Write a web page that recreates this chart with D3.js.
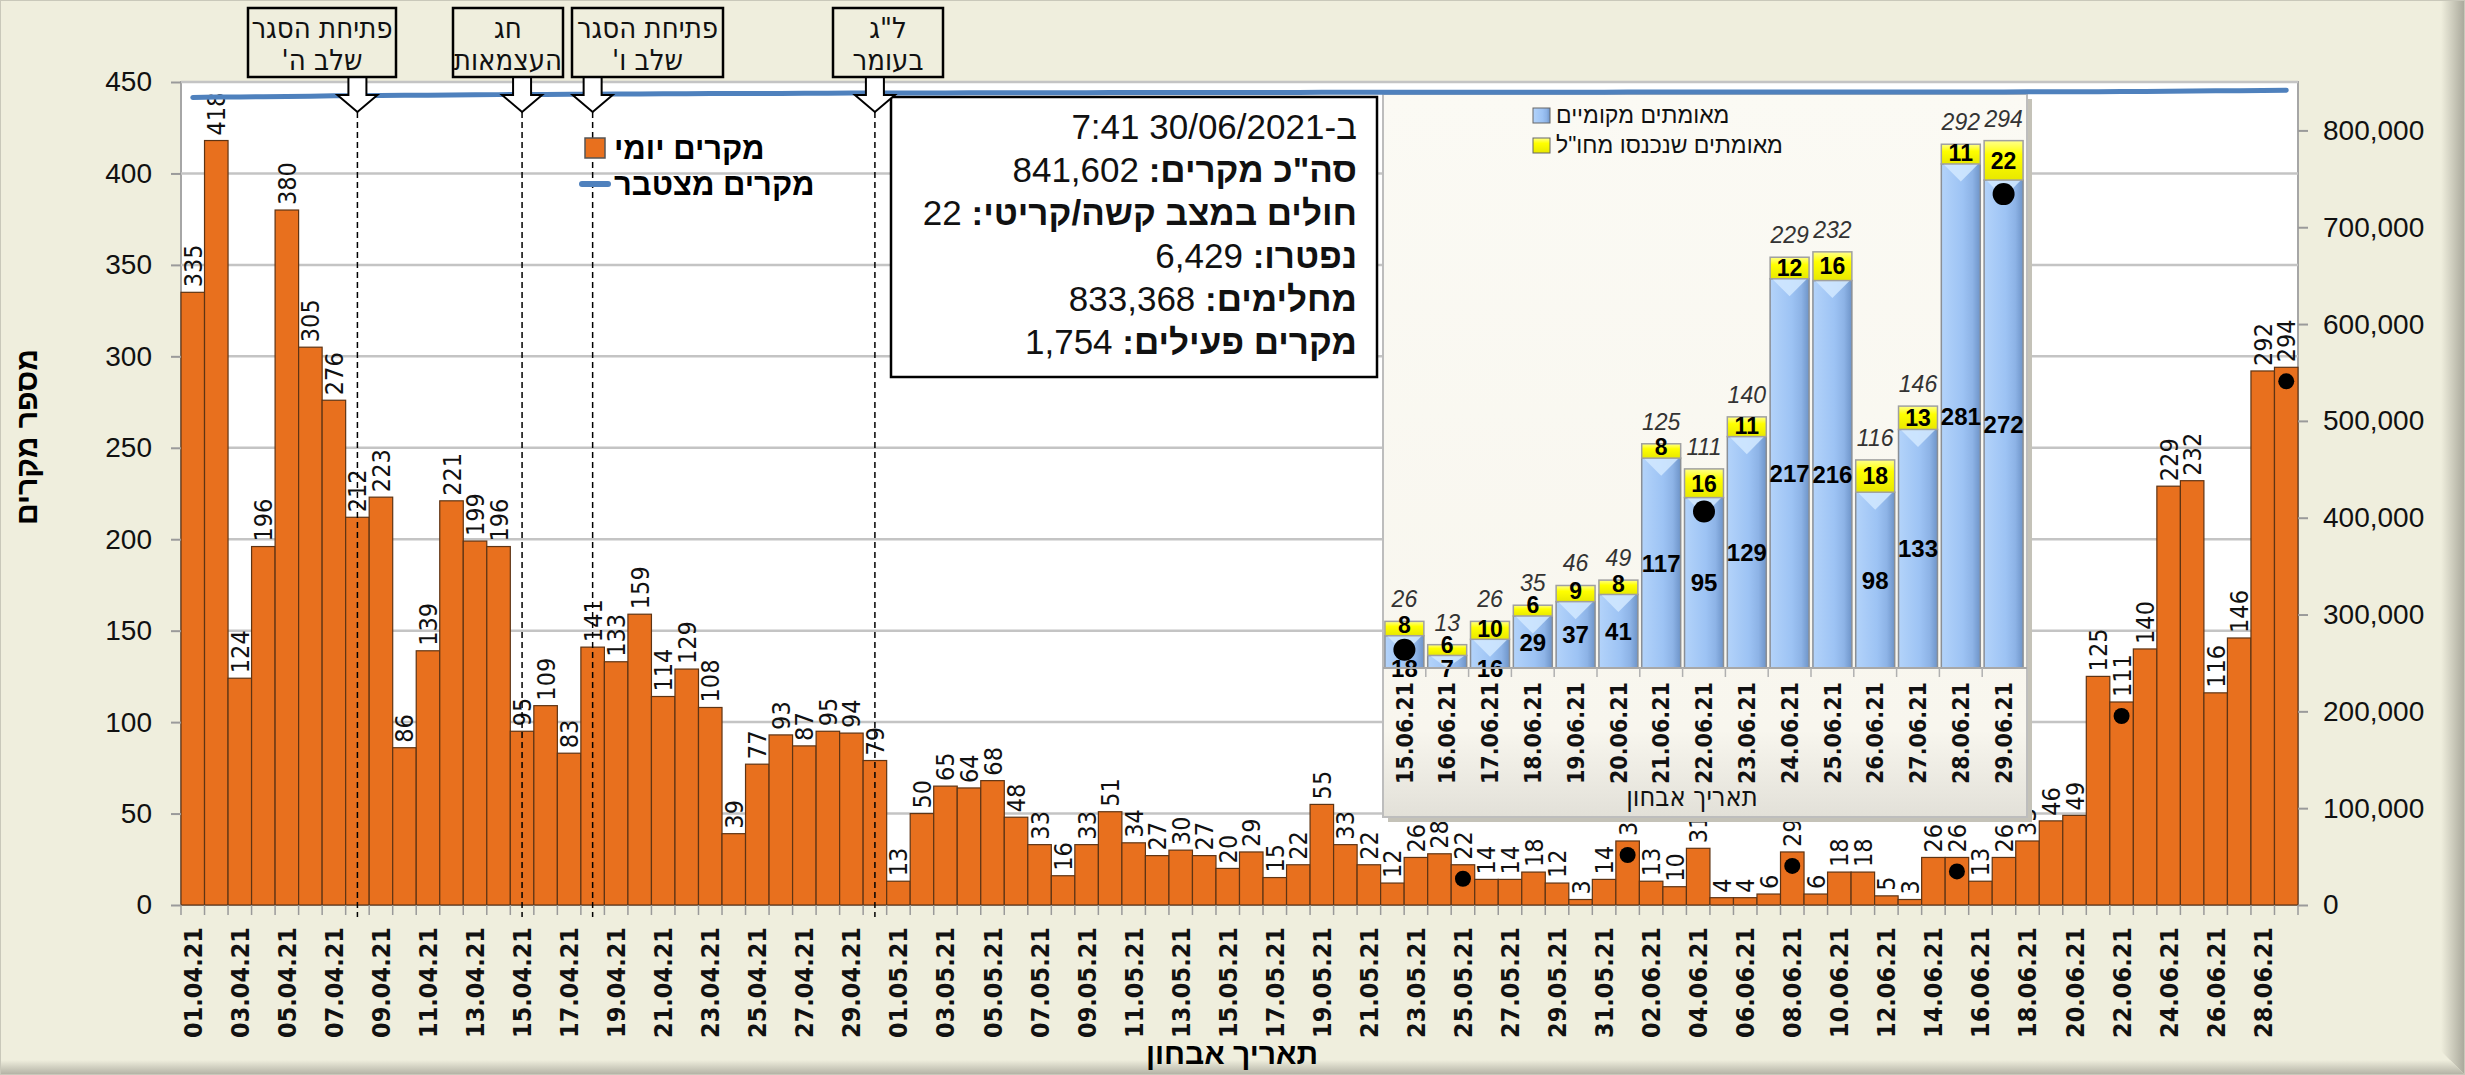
<!DOCTYPE html>
<html lang="he">
<head>
    <meta charset="utf-8" />
    <title>מקרים יומיים ומצטברים</title>
    <script src="https://cdn.jsdelivr.net/npm/d3@7/dist/d3.min.js"></script>
    <style type="text/css">
        body { margin: 0; background: #fff; }
        svg { display: block; }
        .sans { font-family: "Liberation Sans", Arial, sans-serif; }
        .narrow { font-family: "Liberation Sans Narrow", "Arial Narrow", "DejaVu Sans Condensed", sans-serif; }
        .cond { font-family: "DejaVu Sans Condensed", "DejaVu Sans", sans-serif; font-stretch: condensed; }
    </style>
</head>
<body>
<svg id="chart" width="2465" height="1075" xmlns="http://www.w3.org/2000/svg"></svg>
<script type="text/javascript">
    // ---- data ----
    var dailyCases = [
        335, 418, 124, 196, 380, 305, 276, 212, 223, 86, 139, 221, 199, 196, 95,
        109, 83, 141, 133, 159, 114, 129, 108, 39, 77, 93, 87, 95, 94, 79,          // April
        13, 50, 65, 64, 68, 48, 33, 16, 33, 51, 34, 27, 30, 27, 20, 29,
        15, 22, 55, 33, 22, 12, 26, 28, 22, 14, 14, 18, 12, 3, 14,                  // May
        35, 13, 10, 31, 4, 4, 6, 29, 6, 18, 18, 5, 3, 26, 26,
        13, 26, 35, 46, 49, 125, 111, 140, 229, 232, 116, 146, 292, 294            // June
    ];
    var totalCases = 841602;
    var weeklyMarks = ["25.05.21", "01.06.21", "08.06.21", "15.06.21", "22.06.21", "29.06.21"];
    var eventDates = ["08.04.21", "15.04.21", "18.04.21", "30.04.21"];
    var eventLabels = [["פתיחת הסגר", "שלב ה'"], ["חג", "העצמאות"], ["פתיחת הסגר", "שלב ו'"], ["ל\"ג", "בעומר"]];
    var leftTicks = [0, 50, 100, 150, 200, 250, 300, 350, 400, 450];
    var rightTicks = [0, 100000, 200000, 300000, 400000, 500000, 600000, 700000, 800000];

    var insetDates = ["15.06.21", "16.06.21", "17.06.21", "18.06.21", "19.06.21", "20.06.21", "21.06.21",
        "22.06.21", "23.06.21", "24.06.21", "25.06.21", "26.06.21", "27.06.21", "28.06.21", "29.06.21"];
    var insetLocal = [18, 7, 16, 29, 37, 41, 117, 95, 129, 217, 216, 98, 133, 281, 272];
    var insetAbroad = [8, 6, 10, 6, 9, 8, 8, 16, 11, 12, 16, 18, 13, 11, 22];
    var insetTotals = [26, 13, 26, 35, 46, 49, 125, 111, 140, 229, 232, 116, 146, 292, 294];

    var infoLabels = ["", "סה\"כ מקרים:", "חולים במצב קשה/קריטי:", "נפטרו:", "מחלימים:", "מקרים פעילים:"];
    var infoValues = ["ב-30/06/2021 7:41", " 841,602", " 22", " 6,429", " 833,368", " 1,754"];

    // dates of the category axis, 01.04.21 .. 29.06.21
    var fmt = d3.timeFormat("%d.%m.%y");
    var dates = d3.timeDay.range(new Date(2021, 3, 1), new Date(2021, 5, 30)).map(fmt);
    var cumulative = Array.from(d3.cumsum(dailyCases), function (v) {
        return v + totalCases - d3.sum(dailyCases);
    });

    // ---- layout ----
    var plot = { x0: 181, x1: 2298, y0: 82, y1: 905 };
    var inset = { x0: 1383, x1: 2027, y0: 94, y1: 817, axis: 668 };
    var infoBox = { x0: 891, x1: 1377, y0: 97, y1: 377 };
    var eventBoxes = [[248, 396], [453, 563], [572, 723], [833, 943]];
    var orange = "#E8701E", blue = "#4F81BD";

    var svg = d3.select("#chart");
    var defs = svg.append("defs");

    function linGrad(id, x2, y2, stops) {
        var g = defs.append("linearGradient").attr("id", id)
            .attr("x1", 0).attr("y1", 0).attr("x2", x2).attr("y2", y2);
        stops.forEach(function (s) {
            g.append("stop").attr("offset", s[0]).attr("stop-color", s[1]);
        });
    }
    linGrad("edgeR", 1, 0, [["0%", "#EFEEDD"], ["100%", "#A8A79A"]]);
    linGrad("edgeB", 0, 1, [["0%", "#EFEEDD"], ["100%", "#B0AFA2"]]);
    linGrad("blueBar", 1, 0, [["0%", "#B3D3FA"], ["55%", "#9DC3F4"], ["80%", "#8DB3E6"], ["100%", "#6E94C8"]]);
    linGrad("yellowBar", 0, 1, [["0%", "#FFFF8C"], ["35%", "#FFFF00"], ["100%", "#E8E800"]]);
    linGrad("insetBg", 0, 1, [["0%", "#FBFAF4"], ["88%", "#F8F6EE"], ["100%", "#E2E0D8"]]);

    // ---- background ----
    svg.append("rect").attr("width", 2465).attr("height", 1075).attr("fill", "#EFEEDD");
    svg.append("path").attr("d", "M2441,0 L2465,0 L2465,1075 L2441,1051 Z").attr("fill", "url(#edgeR)");
    svg.append("path").attr("d", "M0,1060 L2450,1060 L2465,1075 L0,1075 Z").attr("fill", "url(#edgeB)");
    svg.append("rect").attr("x", 0.5).attr("y", 0.5).attr("width", 2464).attr("height", 1074)
        .attr("fill", "none").attr("stroke", "#C9C8BA");

    // ---- scales ----
    var x = d3.scaleBand().domain(dates).range([plot.x0, plot.x1]);
    var yLeft = d3.scaleLinear().domain([0, 450]).range([plot.y1, plot.y0]);
    var yRight = d3.scaleLinear().domain([0, 850000]).range([plot.y1, plot.y0]);
    var bw = x.bandwidth();
    function cx(d) { return x(d) + bw / 2; }

    svg.append("rect").attr("x", plot.x0).attr("y", plot.y0)
        .attr("width", plot.x1 - plot.x0).attr("height", plot.y1 - plot.y0)
        .attr("fill", "#fff").attr("stroke", "#A6A6A6").attr("stroke-width", 2);

    svg.append("g").selectAll("line").data(leftTicks.slice(1)).enter().append("line")
        .attr("x1", plot.x0).attr("x2", plot.x1)
        .attr("y1", yLeft).attr("y2", yLeft)
        .attr("stroke", "#C4C4C4").attr("stroke-width", 2.5);

    // ---- daily bars ----
    var rows = dates.map(function (d, i) { return { date: d, value: dailyCases[i] }; });

    svg.append("g").selectAll("rect").data(rows).enter().append("rect")
        .attr("x", function (d) { return x(d.date); })
        .attr("y", function (d) { return yLeft(d.value); })
        .attr("width", bw)
        .attr("height", function (d) { return plot.y1 - yLeft(d.value); })
        .attr("fill", orange).attr("stroke", "#5E3414").attr("stroke-width", 1.2);

    svg.append("g").attr("class", "cond").selectAll("text").data(rows).enter().append("text")
        .attr("transform", function (d) { return "translate(" + cx(d.date) + "," + (yLeft(d.value) - 5) + ") rotate(-90)"; })
        .attr("dy", "0.36em")
        .attr("font-size", 25)
        .attr("fill", "#111")
        .text(function (d) { return d.value; });

    svg.append("g").selectAll("circle").data(rows.filter(function (d) { return weeklyMarks.indexOf(d.date) >= 0; }))
        .enter().append("circle")
        .attr("cx", function (d) { return cx(d.date); })
        .attr("cy", function (d) { return yLeft(d.value) + 14; })
        .attr("r", 8).attr("fill", "#000");

    // ---- axes ----
    var gl = svg.append("g").attr("class", "sans").attr("transform", "translate(" + plot.x0 + ",0)")
        .call(d3.axisLeft(yLeft).tickValues(leftTicks).tickSize(10).tickPadding(19));
    var gr = svg.append("g").attr("class", "sans").attr("transform", "translate(" + plot.x1 + ",0)")
        .call(d3.axisRight(yRight).tickValues(rightTicks).tickSize(10).tickPadding(15)
            .tickFormat(d3.format(",")));
    [gl, gr].forEach(function (g) {
        g.select(".domain").remove();
        g.selectAll(".tick line").attr("stroke", "#9A9A9A").attr("stroke-width", 2);
        g.selectAll(".tick text").attr("font-size", 28).attr("fill", "#111")
            .attr("font-family", "'Liberation Sans', Arial, sans-serif");
    });

    svg.append("g").selectAll("line").data(dates.concat(["end"])).enter().append("line")
        .attr("x1", function (d) { return d === "end" ? plot.x1 : x(d); })
        .attr("x2", function (d) { return d === "end" ? plot.x1 : x(d); })
        .attr("y1", plot.y1).attr("y2", plot.y1 + 10)
        .attr("stroke", "#9A9A9A").attr("stroke-width", 1.5);

    svg.append("g").attr("class", "narrow").selectAll("text")
        .data(dates.filter(function (d, i) { return i % 2 === 0; })).enter().append("text")
        .attr("transform", function (d) { return "translate(" + cx(d) + ",927) rotate(-90)"; })
        .attr("text-anchor", "end").attr("dy", "0.36em")
        .attr("font-size", 25).attr("font-weight", "bold").attr("fill", "#111")
        .text(function (d) { return d; });

    svg.append("text").attr("class", "sans")
        .attr("transform", "translate(26,437) rotate(-90)")
        .attr("text-anchor", "middle").attr("dy", "0.36em")
        .attr("font-size", 30).attr("font-weight", "bold").text("מספר מקרים");
    svg.append("text").attr("class", "sans")
        .attr("x", 1232).attr("y", 1064).attr("text-anchor", "middle")
        .attr("font-size", 30).attr("font-weight", "bold").text("תאריך אבחון");

    // ---- event markers (dashed lines) ----
    svg.append("g").selectAll("line").data(eventDates).enter().append("line")
        .attr("x1", cx).attr("x2", cx)
        .attr("y1", 112).attr("y2", plot.y1 + 12)
        .attr("stroke", "#000").attr("stroke-width", 1.5).attr("stroke-dasharray", "6,4");

    // ---- legend ----
    var lg = svg.append("g").attr("class", "sans").attr("font-weight", "bold").attr("font-size", 31);
    lg.append("rect").attr("x", 585).attr("y", 138).attr("width", 20).attr("height", 20)
        .attr("fill", orange).attr("stroke", "#555").attr("stroke-width", 1.5);
    lg.append("text").attr("x", 614).attr("y", 159).text("מקרים יומי");
    lg.append("line").attr("x1", 582).attr("x2", 608).attr("y1", 184).attr("y2", 184)
        .attr("stroke", blue).attr("stroke-width", 6).attr("stroke-linecap", "round");
    lg.append("text").attr("x", 614).attr("y", 195).text("מקרים מצטבר");

    // ---- info box ----
    svg.append("rect").attr("x", infoBox.x0).attr("y", infoBox.y0)
        .attr("width", infoBox.x1 - infoBox.x0).attr("height", infoBox.y1 - infoBox.y0)
        .attr("fill", "#fff").attr("stroke", "#000").attr("stroke-width", 2.5);
    var info = svg.append("g").attr("class", "sans").attr("font-size", 35).attr("fill", "#111");
    infoLabels.forEach(function (lab, i) {
        var t = info.append("text").attr("x", infoBox.x1 - 20).attr("y", 139 + i * 43)
            .attr("direction", "rtl").attr("text-anchor", "start");
        if (lab) t.append("tspan").attr("font-weight", "bold").text(lab);
        t.append("tspan").text(infoValues[i]);
    });

    // ---- inset: local vs. abroad, last 15 days ----
    var ig = svg.append("g");
    ig.append("rect").attr("x", inset.x0 + 5).attr("y", inset.y0 + 5)
        .attr("width", inset.x1 - inset.x0).attr("height", inset.y1 - inset.y0).attr("fill", "#C4C2B8");
    ig.append("rect").attr("x", inset.x0).attr("y", inset.y0)
        .attr("width", inset.x1 - inset.x0).attr("height", inset.y1 - inset.y0)
        .attr("fill", "url(#insetBg)").attr("stroke", "#BDBDBD").attr("stroke-width", 2);

    var xi = d3.scaleBand().domain(insetDates).range([inset.x0, inset.x1 - 2])
        .paddingInner(0.09).paddingOuter(0.045);
    var yi = d3.scaleLinear().domain([0, 320]).range([inset.axis, inset.y0]);
    var ibw = xi.bandwidth();
    var step = xi.step();
    var irows = insetDates.map(function (d, i) {
        return { date: d, local: insetLocal[i], abroad: insetAbroad[i], total: insetTotals[i] };
    });

    var bars = ig.append("g").selectAll("g").data(irows).enter().append("g")
        .attr("transform", function (d) { return "translate(" + xi(d.date) + ",0)"; });
    bars.append("rect")
        .attr("y", function (d) { return yi(d.local); })
        .attr("width", ibw)
        .attr("height", function (d) { return inset.axis - yi(d.local); })
        .attr("fill", "url(#blueBar)").attr("stroke", "#8A8F96").attr("stroke-width", 1.5);
    bars.append("path")
        .attr("d", function (d) {
            var t = yi(d.local), h = Math.min(ibw * 0.45, inset.axis - t);
            return "M2," + t + " L" + (ibw - 2) + "," + t + " L" + (ibw / 2) + "," + (t + h) + " Z";
        })
        .attr("fill", "#D2E9FF").attr("opacity", 0.85);
    bars.append("rect")
        .attr("y", function (d) { return yi(d.local + d.abroad); })
        .attr("width", ibw)
        .attr("height", function (d) { return yi(d.local) - yi(d.local + d.abroad); })
        .attr("fill", "url(#yellowBar)").attr("stroke", "#A0A0A0").attr("stroke-width", 1.5);

    bars.append("text").attr("class", "sans")
        .attr("x", ibw / 2)
        .attr("y", function (d) {
            return Math.min((yi(d.local + d.abroad) + yi(d.local)) / 2, yi(d.local) - 11);
        })
        .attr("dy", "0.36em").attr("text-anchor", "middle")
        .attr("font-size", 23).attr("font-weight", "bold").attr("fill", "#000")
        .text(function (d) { return d.abroad; });
    bars.append("text").attr("class", "sans")
        .attr("x", ibw / 2)
        .attr("y", function (d) {
            var h = inset.axis - yi(d.local);
            return h < 35 ? inset.axis : (yi(d.local) + inset.axis) / 2;
        })
        .attr("dy", "0.36em").attr("text-anchor", "middle")
        .attr("font-size", 24).attr("font-weight", "bold").attr("fill", "#000")
        .text(function (d) { return d.local; });
    bars.append("text").attr("class", "sans")
        .attr("x", ibw / 2)
        .attr("y", function (d) { return yi(d.total) - 14; })
        .attr("text-anchor", "middle")
        .attr("font-size", 23).attr("font-style", "italic").attr("fill", "#333")
        .text(function (d) { return d.total; });
    bars.filter(function (d) { return weeklyMarks.indexOf(d.date) >= 0; }).append("circle")
        .attr("cx", ibw / 2)
        .attr("cy", function (d) { return yi(d.local) + 14; })
        .attr("r", 11).attr("fill", "#000");

    ig.append("line").attr("x1", inset.x0).attr("x2", inset.x1)
        .attr("y1", inset.axis).attr("y2", inset.axis)
        .attr("stroke", "#A8A8A8").attr("stroke-width", 2);
    ig.append("g").selectAll("line").data(insetDates.slice(1)).enter().append("line")
        .attr("x1", function (d) { return xi(d) - (step - ibw) / 2; })
        .attr("x2", function (d) { return xi(d) - (step - ibw) / 2; })
        .attr("y1", inset.axis).attr("y2", inset.axis + 9)
        .attr("stroke", "#B0B0B0").attr("stroke-width", 1.5);
    ig.append("g").attr("class", "narrow").selectAll("text").data(insetDates).enter().append("text")
        .attr("transform", function (d) { return "translate(" + (xi(d) + ibw / 2) + ",682) rotate(-90)"; })
        .attr("text-anchor", "end").attr("dy", "0.36em")
        .attr("font-size", 23).attr("font-weight", "bold").attr("fill", "#111")
        .text(function (d) { return d; });
    ig.append("text").attr("class", "narrow")
        .attr("x", 1692).attr("y", 806).attr("text-anchor", "middle")
        .attr("font-size", 27).attr("fill", "#111").text("תאריך אבחון");

    var il = ig.append("g").attr("class", "sans").attr("font-size", 23).attr("fill", "#111");
    il.append("rect").attr("x", 1533).attr("y", 108).attr("width", 17).attr("height", 15)
        .attr("fill", "url(#blueBar)").attr("stroke", "#666");
    il.append("text").attr("x", 1556).attr("y", 123).text("מאומתים מקומיים");
    il.append("rect").attr("x", 1533).attr("y", 138).attr("width", 17).attr("height", 15)
        .attr("fill", "url(#yellowBar)").attr("stroke", "#666");
    il.append("text").attr("x", 1556).attr("y", 153).text("מאומתים שנכנסו מחו\"ל");

    // ---- cumulative line (right axis) ----
    svg.append("path").datum(cumulative)
        .attr("d", d3.line()
            .x(function (d, i) { return cx(dates[i]); })
            .y(function (d) { return yRight(d); }))
        .attr("fill", "none").attr("stroke", blue).attr("stroke-width", 5)
        .attr("stroke-linecap", "round");

    // ---- event boxes and arrows ----
    function arrowPath(c, yTop, yTip) {
        var hs = yTip - 17;
        return "M" + (c - 9) + "," + yTop + " L" + (c + 9) + "," + yTop +
            " L" + (c + 9) + "," + hs + " L" + (c + 20) + "," + hs +
            " L" + c + "," + yTip + " L" + (c - 20) + "," + hs +
            " L" + (c - 9) + "," + hs + " Z";
    }
    var eg = svg.append("g");
    eventDates.forEach(function (d, i) {
        var b = eventBoxes[i];
        eg.append("path").attr("d", arrowPath(cx(d), 77, 112))
            .attr("fill", "#fff").attr("stroke", "#000").attr("stroke-width", 2)
            .attr("stroke-linejoin", "miter");
        eg.append("rect").attr("x", b[0]).attr("y", 8)
            .attr("width", b[1] - b[0]).attr("height", 69)
            .attr("fill", "#EFEEDD").attr("stroke", "#000").attr("stroke-width", 2.5);
        eventLabels[i].forEach(function (line, j) {
            eg.append("text").attr("class", "narrow")
                .attr("x", (b[0] + b[1]) / 2).attr("y", 38 + j * 32)
                .attr("text-anchor", "middle").attr("direction", "rtl")
                .attr("font-size", 29).attr("fill", "#111")
                .text(line);
        });
    });
</script>
</body>
</html>
